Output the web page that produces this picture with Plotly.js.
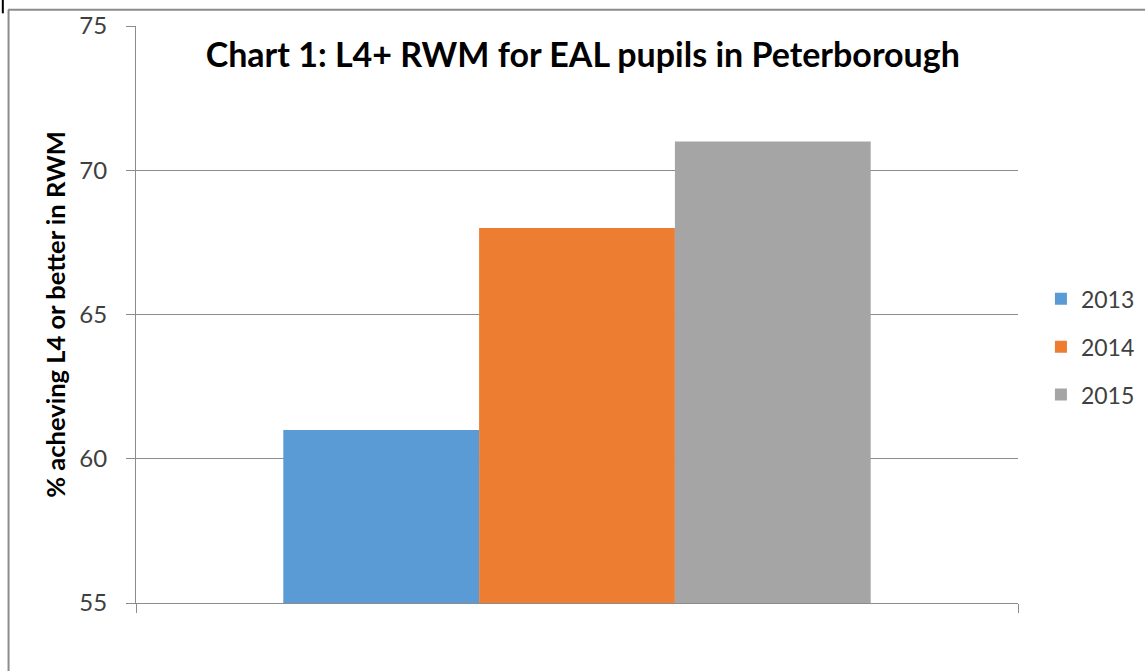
<!DOCTYPE html>
<html>
<head>
<meta charset="utf-8">
<script src="https://cdn.plot.ly/plotly-3.0.1.min.js"></script>
<style>html,body{margin:0;padding:0;background:#fff;}#chart{width:1145px;height:671px;}</style>
</head>
<body>
<div id="chart"></div>
<script>
const categories = ["EAL pupils"];
const seriesNames = ["2013", "2014", "2015"];
const values2013 = [61];
const values2014 = [68];
const values2015 = [71];
const colors = ["#5B9BD5", "#ED7D31", "#A5A5A5"];
const yTicks = [55, 60, 65, 70, 75];

const allValues = [values2013, values2014, values2015];
const traces = seriesNames.map((name, i) => ({
  type: "bar",
  name: name,
  x: categories,
  y: allValues[i],
  marker: {color: colors[i], line: {width: 0}},
  legendgroup: name,
  hoverinfo: "y+name"
}));

const font = "Lato, 'Open Sans', sans-serif";
const layout = {
  width: 1145, height: 671,
  margin: {l: 136, r: 127, t: 26, b: 68, pad: 0, autoexpand: false},
  paper_bgcolor: "#fff", plot_bgcolor: "#fff",
  barmode: "group", bargap: 0.334, bargroupgap: 0,
  title: {text: "<b>Chart 1: L4+ RWM for EAL pupils in Peterborough</b>",
    font: {family: font, size: 34, color: "#000"},
    x: 0.509, xanchor: "center", y: 0.918, yanchor: "middle"},
  xaxis: {type: "category", showticklabels: false, showgrid: false,
    showline: true, linecolor: "#8c8c8c", linewidth: 1,
    ticks: "outside", tickson: "boundaries", ticklen: 9, tickcolor: "#8c8c8c", zeroline: false},
  yaxis: {range: [55, 75], tickvals: yTicks, ticktext: yTicks.map(String),
    showgrid: true, gridcolor: "#8c8c8c", gridwidth: 1,
    showline: true, linecolor: "#8c8c8c", linewidth: 1,
    ticks: "outside", ticklen: 9, tickcolor: "#8c8c8c", zeroline: false,
    ticklabelstandoff: 14,
    tickfont: {family: font, size: 24, color: "#404040"},
    title: {text: "<b>% acheving L4 or better in RWM</b>", font: {family: font, size: 25.5, color: "#000"}, standoff: 6}},
  legend: {x: 1.026, xanchor: "left", y: 0.444, yanchor: "middle",
    font: {family: font, size: 23, color: "#404040"},
    traceorder: "grouped", tracegroupgap: 15, itemwidth: 30, bgcolor: "rgba(0,0,0,0)"},
  shapes: [
    {type: "line", xref: "paper", yref: "paper", x0: -0.145, x1: 1.2, y0: 1.028, y1: 1.028, line: {color: "#8c8c8c", width: 2}},
    {type: "line", xref: "paper", yref: "paper", x0: -0.1445, x1: -0.1445, y0: 1.028, y1: -0.2, line: {color: "#8c8c8c", width: 2}},
    {type: "line", xref: "paper", yref: "paper", x0: -0.151, x1: -0.151, y0: 1.05, y1: 1.022, line: {color: "#000", width: 2}}
  ],
  showlegend: true
};

Plotly.newPlot("chart", traces, layout, {displayModeBar: false, staticPlot: true});
</script>
</body>
</html>
